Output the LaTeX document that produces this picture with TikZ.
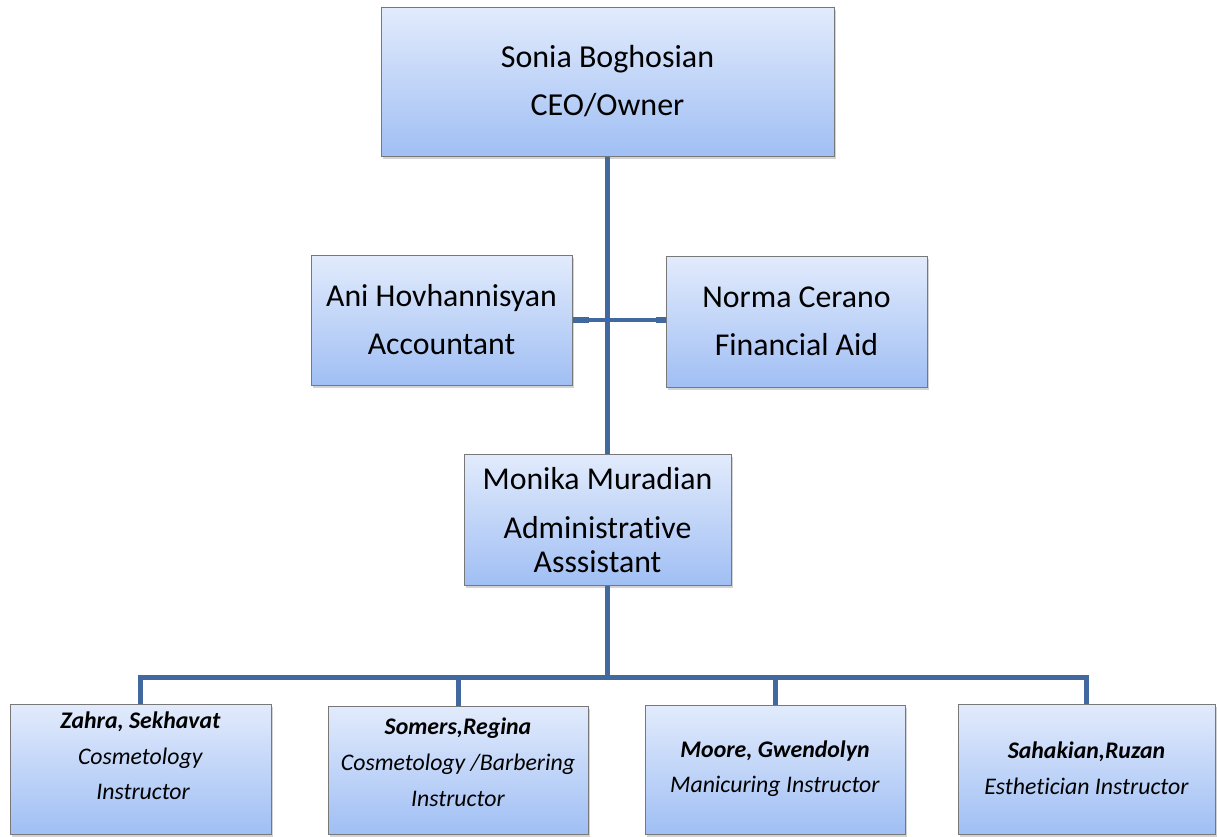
\documentclass[tikz,border=0pt]{standalone}
\usepackage{fontspec}
\setmainfont[Ligatures=NoCommon]{Carlito}
\usetikzlibrary{shadows}
\definecolor{linecol}{RGB}{65,105,160}
\definecolor{boxtop}{RGB}{226,235,252}
\definecolor{boxbot}{RGB}{160,191,244}
\definecolor{boxedge}{RGB}{120,120,120}
\tikzset{
  orgbox/.style={draw=boxedge, line width=1pt, top color=boxtop, bottom color=boxbot,
    drop shadow={shadow xshift=1.5pt, shadow yshift=-2.5pt, opacity=0.35},
    inner sep=0pt, align=center},
  txt/.style={inner sep=0pt, align=center, text=black},
  conn/.style={draw=linecol, line width=5pt},
  thinconn/.style={draw=linecol, line width=3.5pt},
}
\begin{document}
\begin{tikzpicture}[x=1pt, y=-1pt]
\useasboundingbox (0,0) rectangle (1217,836);
% boxes
\node[orgbox, minimum width=453pt, minimum height=149pt,
  font=\fontsize{32}{48}\selectfont] (ceo) at (607.5,81.5) {Sonia Boghosian\\CEO/Owner};
\node[orgbox, minimum width=261pt, minimum height=130pt,
  font=\fontsize{31.8}{48}\selectfont] (acct) at (441.5,320) {Ani Hovhannisyan\\Accountant};
\node[orgbox, minimum width=261pt, minimum height=131pt,
  font=\fontsize{31.8}{48}\selectfont] (fin) at (796.5,321.5) {Norma Cerano\\Financial Aid};
\node[orgbox, minimum width=267pt, minimum height=131pt] (admin) at (597.5,519.5) {};
\node[orgbox, minimum width=261pt, minimum height=130pt] (zahra) at (140.5,769) {};
\node[orgbox, minimum width=260pt, minimum height=128pt] (somers) at (458,770) {};
\node[orgbox, minimum width=260pt, minimum height=129pt] (moore) at (775,769.5) {};
\node[orgbox, minimum width=257pt, minimum height=130pt] (sah) at (1086.5,769) {};
% texts
\node[txt, font=\fontsize{31.8}{34}\selectfont] (adminT) at (597.5,520)
  {Monika Muradian\\[15pt]Administrative\\Asssistant};
\node[txt, font=\fontsize{23.8}{35.5}\selectfont] (zahraT) at (140.5,756)
  {\textbf{\textit{Zahra, Sekhavat}}\\\textit{Cosmetology}\\\textit{\ Instructor}};
\node[txt, font=\fontsize{23.8}{36}\selectfont] (somersT) at (458,762)
  {\textbf{\textit{Somers,Regina}}\\\textit{Cosmetology /Barbering}\\\textit{Instructor}};
\node[txt, font=\fontsize{23.8}{35}\selectfont] (mooreT) at (775,769)
  {\textbf{\textit{Moore, Gwendolyn}}\\\textit{Manicuring Instructor}};
\node[txt, font=\fontsize{23.8}{36}\selectfont] (sahT) at (1086.5,768)
  {\textbf{\textit{Sahakian,Ruzan}}\\\textit{Esthetician Instructor}};
% connectors
\coordinate (bus) at (607,677);
\draw[conn] (ceo.south -| bus) -- (admin.north -| bus);
\draw[thinconn] (acct.east) -- (acct.east -| fin.west);
\draw[conn, line width=6pt] (acct.east) -- ++(16,0);
\draw[conn, line width=6pt] (acct.east -| fin.west) -- ++(-10,0);
\draw[conn] (admin.south -| bus) -- (bus);
\draw[conn] (zahra.north) -- (zahra.north |- bus) -- (sah.north |- bus) -- (sah.north);
\draw[conn] (somers.north) -- (somers.north |- bus);
\draw[conn] (moore.north) -- (moore.north |- bus);
\end{tikzpicture}
\end{document}
